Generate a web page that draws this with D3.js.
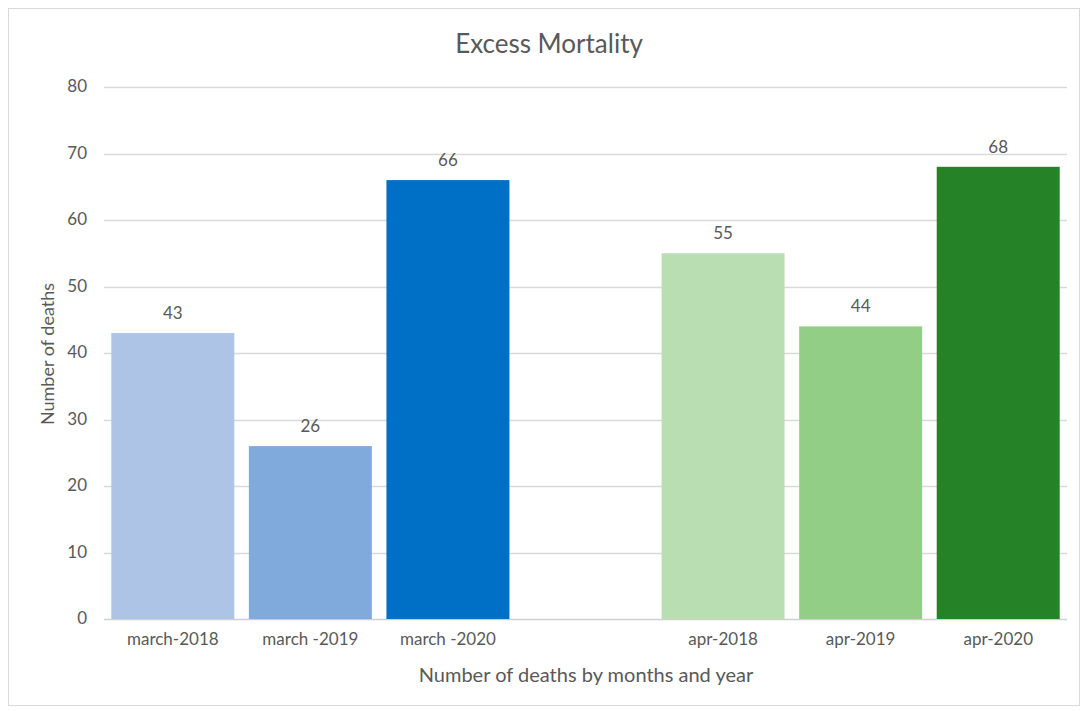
<!DOCTYPE html>
<html>
<head>
<meta charset="utf-8">
<script src="https://cdn.jsdelivr.net/npm/d3@7"></script>
<style>
  html, body { margin: 0; padding: 0; background: #fff; overflow: hidden; }
  svg { display: block; }
  text { font-family: Lato, "Open Sans", sans-serif; fill: #595959; }
</style>
</head>
<body>
<div id="chart"></div>
<script>
// categories, blank slot keeps the gap between march and april
var categories = ["march-2018", "march -2019", "march -2020", "", "apr-2018", "apr-2019", "apr-2020"];
var deaths = [43, 26, 66, null, 55, 44, 68];
var barColors = ["#aec4e6", "#7faadb", "#0070c6", "none", "#b9deb2", "#93ce87", "#268226"];
var yTicks = [0, 10, 20, 30, 40, 50, 60, 70, 80];

var width = 1080;
var height = 711;
var margin = { top: 87, right: 13, bottom: 92, left: 104 };
var innerWidth = width - margin.left - margin.right;
var innerHeight = height - margin.top - margin.bottom;

var svg = d3.select("#chart").append("svg")
  .attr("width", width)
  .attr("height", height);

// outer frame
svg.append("rect")
  .attr("x", 8.5).attr("y", 8.5)
  .attr("width", width - 9).attr("height", 697)
  .attr("fill", "none")
  .attr("stroke", "#d9d9d9");

var data = categories.map(function(c, i) {
  return { key: c, value: deaths[i], color: barColors[i], idx: i };
});

// scales in page coordinates
var xScale = d3.scaleBand()
  .domain(d3.range(categories.length))
  .range([margin.left, width - margin.right])
  .paddingInner(0.106)
  .paddingOuter(0.053);

var yScale = d3.scaleLinear().domain([0, 80]).range([height - margin.bottom, margin.top]);

// gridlines
svg.append("g")
  .selectAll("line")
  .data(yTicks)
  .enter().append("line")
  .attr("x1", margin.left).attr("x2", width - margin.right)
  .attr("y1", function(d) { return Math.round(yScale(d)) + 0.5; })
  .attr("y2", function(d) { return Math.round(yScale(d)) + 0.5; })
  .attr("stroke", function(d) { return d === 0 ? "#cfcfcf" : "#d9d9d9"; })
  .attr("stroke-width", 1.3);

// y tick labels
svg.append("g")
  .selectAll("text")
  .data(yTicks)
  .enter().append("text")
  .attr("x", margin.left - 17)
  .attr("y", function(d) { return yScale(d); })
  .attr("dy", "0.32em")
  .attr("text-anchor", "end")
  .style("font-size", "17px")
  .text(function(d) { return d; });

// bars
var bars = data.filter(function(d) { return d.value !== null; });
svg.selectAll(".bar")
  .data(bars)
  .enter().append("rect")
  .attr("class", "bar")
  .attr("x", function(d) { return xScale(d.idx); })
  .attr("width", xScale.bandwidth())
  .attr("y", function(d) { return yScale(d.value); })
  .attr("height", function(d) { return yScale(0) - yScale(d.value); })
  .attr("fill", function(d) { return d.color; });

// value labels
svg.selectAll(".val")
  .data(bars)
  .enter().append("text")
  .attr("class", "val")
  .attr("x", function(d) { return xScale(d.idx) + xScale.bandwidth() / 2; })
  .attr("y", function(d) { return yScale(d.value) - 14; })
  .attr("text-anchor", "middle")
  .style("font-size", "17px")
  .text(function(d) { return d.value; });

// x axis labels (skip the blank gap slot)
var xTickIdx = d3.range(categories.length).filter(function(i) { return categories[i] !== ""; });
var xAxis = svg.append("g")
  .attr("transform", "translate(0," + (height - margin.bottom) + ")")
  .call(d3.axisBottom(xScale).tickValues(xTickIdx).tickSize(0).tickPadding(14)
    .tickFormat(function(i) { return categories[i]; }));
xAxis.select(".domain").remove();
xAxis.selectAll("text").style("font-size", "17px").attr("fill", "#595959");

// titles
svg.append("text")
  .attr("x", 549).attr("y", 53)
  .attr("text-anchor", "middle")
  .style("font-size", "26px")
  .text("Excess Mortality");

svg.append("text")
  .attr("x", 586).attr("y", 682)
  .attr("text-anchor", "middle")
  .style("font-size", "20px")
  .text("Number of deaths by months and year");

// rotated about a point chosen so the local box stays positive
var yMid = margin.top + innerHeight / 2 + 1;
svg.append("text")
  .attr("x", yMid).attr("y", 54)
  .attr("transform", "rotate(-90 " + yMid + " " + yMid + ")")
  .attr("text-anchor", "middle")
  .style("font-size", "18px")
  .text("Number of deaths");
</script>
</body>
</html>
